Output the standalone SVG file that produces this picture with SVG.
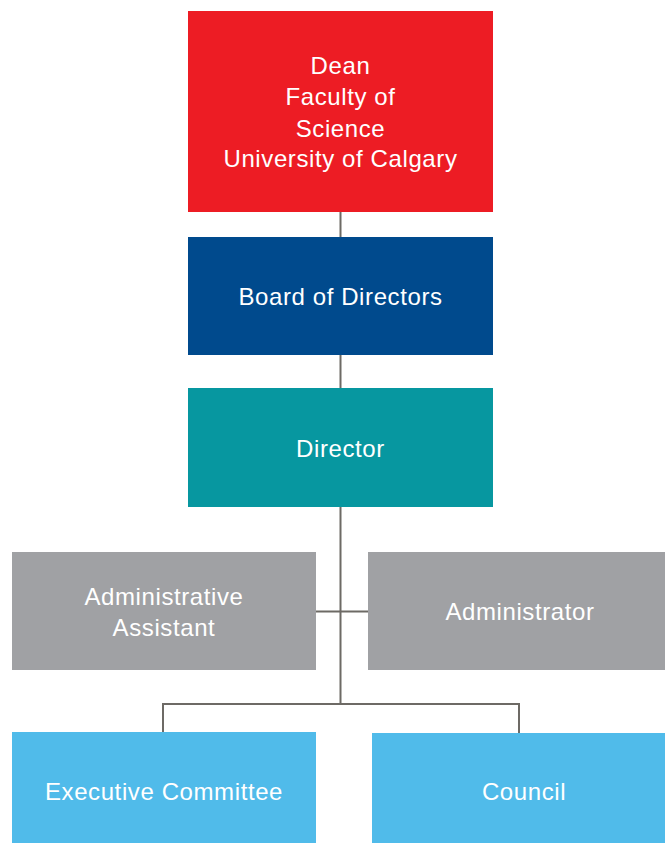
<svg xmlns="http://www.w3.org/2000/svg" width="665" height="843" viewBox="0 0 665 843">
<style>
.t{font-family:"Liberation Sans",Arial,sans-serif;font-size:24px;letter-spacing:0.6px;fill:#ffffff;text-anchor:middle}
.c{stroke:#6d6a65;stroke-width:2;fill:none}
</style>
<rect width="665" height="843" fill="#ffffff"/>
<g id="connectors">
<path class="c" d="M340.5 212V237M340.5 355V388M340.5 507V704M316 611.5H368M163 732V704H519V733"/>
</g>
<g id="dean">
<rect x="188" y="11" width="305" height="201" fill="#ed1c24"/>
<text class="t" x="340.5" y="74">Dean</text>
<text class="t" x="340.5" y="105">Faculty of</text>
<text class="t" x="340.5" y="137">Science</text>
<text class="t" x="340.5" y="167">University of Calgary</text>
</g>
<g id="board">
<rect x="188" y="237" width="305" height="118" fill="#004a8d"/>
<text class="t" x="340.5" y="305">Board of Directors</text>
</g>
<g id="director">
<rect x="188" y="388" width="305" height="119" fill="#0797a0"/>
<text class="t" x="340.5" y="457">Director</text>
</g>
<g id="admin-assistant">
<rect x="12" y="552" width="304" height="118" fill="#a0a1a4"/>
<text class="t" x="164" y="605">Administrative</text>
<text class="t" x="164" y="636">Assistant</text>
</g>
<g id="administrator">
<rect x="368" y="552" width="297" height="118" fill="#a0a1a4"/>
<text class="t" x="520" y="620">Administrator</text>
</g>
<g id="executive-committee">
<rect x="12" y="732" width="304" height="111" fill="#50bbea"/>
<text class="t" x="164" y="800">Executive Committee</text>
</g>
<g id="council">
<rect x="372" y="733" width="293" height="110" fill="#50bbea"/>
<text class="t" x="524" y="800">Council</text>
</g>
</svg>
